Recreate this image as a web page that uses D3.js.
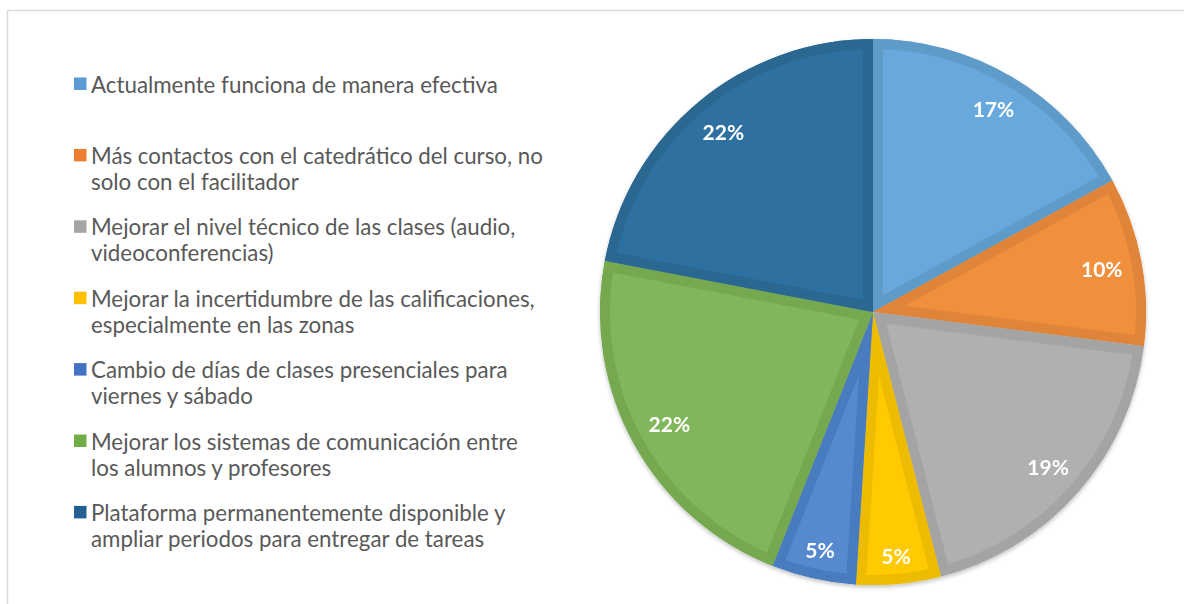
<!DOCTYPE html>
<html>
<head>
<meta charset="utf-8">
<script src="https://cdn.jsdelivr.net/npm/d3@7/dist/d3.min.js"></script>
<style>
  html, body { margin: 0; padding: 0; background: #ffffff; }
  svg { display: block; }
</style>
</head>
<body>
<svg id="chart" width="1184" height="604"></svg>
<script>
// Survey responses: suggested improvements (share of answers, %)
const categories = [
  ["Actualmente funciona de manera efectiva"],
  ["Más contactos con el catedrático del curso, no", "solo con el facilitador"],
  ["Mejorar el nivel técnico de las clases (audio,", "videoconferencias)"],
  ["Mejorar la incertidumbre de las calificaciones,", "especialmente en las zonas"],
  ["Cambio de días de clases presenciales para", "viernes y sábado"],
  ["Mejorar los sistemas de comunicación entre", "los alumnos y profesores"],
  ["Plataforma permanentemente disponible y", "ampliar periodos para entregar de tareas"]
];
const values = [17, 10, 19, 5, 5, 22, 22];

// Slice fill, slice edge band, and legend swatch colours
const fillColors   = ["#68a8dc", "#f0903e", "#b0b0b0", "#ffca00", "#5689cd", "#80b75a", "#2e71a0"];
const edgeColors   = ["#5f9bc8", "#df8439", "#a4a4a4", "#edbb00", "#4a7cbf", "#75a84f", "#2a6792"];
const swatchColors = ["#5b9bd5", "#ed7d31", "#a5a5a5", "#ffc000", "#4472c4", "#70ad47", "#255e91"];

const FONT = "Lato, 'Open Sans', sans-serif";
const svg = d3.select("#chart");

// outer frame (runs past the right and bottom edges)
svg.append("rect")
  .attr("x", 7.5).attr("y", 10.5)
  .attr("width", 1200).attr("height", 620)
  .attr("fill", "none")
  .attr("stroke", "#d9d9d9")
  .attr("stroke-width", 1.5);

// ---------- pie ----------
const cx = 873, cy = 312, R = 273;
const data = values.map((v, i) => ({ value: v, i }));
const pie = d3.pie().value(d => d.value).sort(null);
const arcs = pie(data);
const arc = d3.arc().innerRadius(0).outerRadius(R);

const defs = svg.append("defs");
const shadow = defs.append("filter").attr("id", "pieShadow")
  .attr("x", "-10%").attr("y", "-10%").attr("width", "120%").attr("height", "120%");
shadow.append("feGaussianBlur").attr("in", "SourceAlpha").attr("stdDeviation", 2).attr("result", "b");
shadow.append("feOffset").attr("in", "b").attr("dy", 2).attr("result", "o");
shadow.append("feComponentTransfer").attr("in", "o").attr("result", "s")
  .append("feFuncA").attr("type", "linear").attr("slope", 0.25);
const merge = shadow.append("feMerge");
merge.append("feMergeNode").attr("in", "s");
merge.append("feMergeNode").attr("in", "SourceGraphic");

arcs.forEach(a => {
  defs.append("clipPath").attr("id", "clip" + a.data.i)
    .append("path").attr("d", arc(a));
});

const pieG = svg.append("g").attr("transform", `translate(${cx},${cy})`);
const sliceG = pieG.append("g").attr("filter", "url(#pieShadow)");

const slices = sliceG.selectAll("g.slice").data(arcs).join("g").attr("class", "slice");
slices.append("path")
  .attr("d", arc)
  .attr("fill", d => fillColors[d.data.i]);
// darker band along the inside of each slice's outline
slices.append("path")
  .attr("d", arc)
  .attr("fill", "none")
  .attr("stroke", d => edgeColors[d.data.i])
  .attr("stroke-width", 20)
  .attr("stroke-linejoin", "miter")
  .attr("clip-path", d => `url(#clip${d.data.i})`);

// percentage labels, placed inside the outer edge
const labels = pieG.append("g").selectAll("text").data(arcs).join("text")
  .attr("font-family", FONT)
  .attr("font-weight", "bold")
  .attr("font-size", 21)
  .attr("fill", "#ffffff")
  .attr("text-anchor", "middle")
  .attr("dominant-baseline", "central")
  .text(d => d.data.value + "%");

labels.each(function (d) {
  const bb = this.getBBox();
  const theta = (d.startAngle + d.endAngle) / 2;
  const s = Math.sin(theta), c = Math.cos(theta);
  const extent = Math.abs(bb.width / 2 * s) + Math.abs(bb.height * 0.36 * c);
  const r = R - 18 - extent;
  d3.select(this).attr("x", r * s).attr("y", -r * c);
});

// ---------- legend ----------
const legend = svg.append("g");
const legendX = 74, textX = 91, firstRow = 84, rowPitch = 71.4, lineGap = 26;

// scale the legend font so the first entry spans its intended width
const probe = legend.append("text").attr("font-family", FONT).attr("font-size", 20)
  .text(categories[0][0]);
const legendFont = 20 * 407 / probe.node().getComputedTextLength();
probe.remove();

categories.forEach((lines, i) => {
  const yc = firstRow + i * rowPitch;
  legend.append("rect")
    .attr("x", legendX).attr("y", yc - 6.5)
    .attr("width", 12.5).attr("height", 12.5)
    .attr("fill", swatchColors[i]);
  const t = legend.append("text")
    .attr("font-family", FONT)
    .attr("font-size", legendFont)
    .attr("fill", "#595959");
  lines.forEach((ln, k) => {
    t.append("tspan")
      .attr("x", textX)
      .attr("y", yc + k * lineGap)
      .attr("dominant-baseline", "central")
      .text(ln);
  });
});
</script>
</body>
</html>
